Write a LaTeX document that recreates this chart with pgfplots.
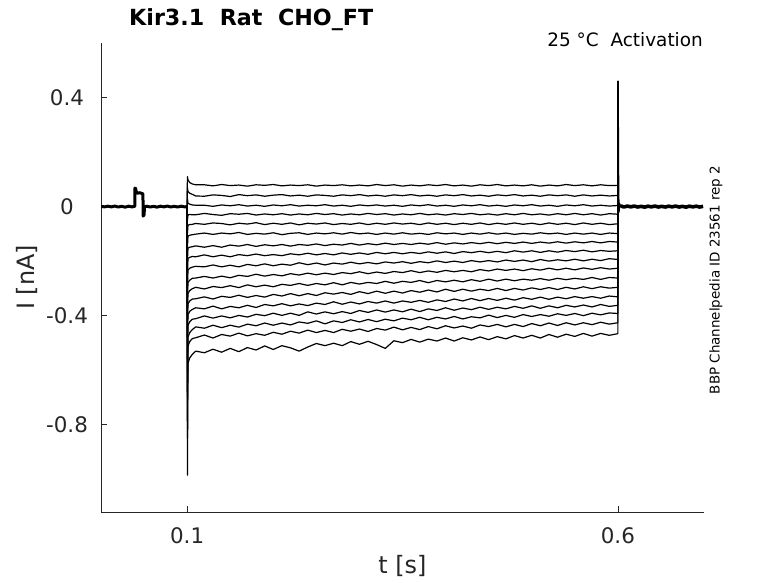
\documentclass[border=0pt]{standalone}
\usepackage{fontspec}
\setmainfont{DejaVu Sans}
\usepackage{pgfplots}
\usepackage{pgfplotstable}
\pgfplotsset{compat=1.18}
\definecolor{axgray}{HTML}{262626}

\pgfplotstableread{
t a0 a1 a2 a3 a4 a5 a6 a7 a8 a9 a10 a11 a12 a13 a14 a15 a16
0.1 0 0 0 0 0 0 0 0 0 0 0 0 0 0 0 0 0
0.1003 0.110 0.070 0.030 -0.050 -0.100 -0.150 -0.200 -0.250 -0.300 -0.350 -0.400 -0.450 -0.500 -0.600 -0.700 -0.850 -0.985
0.101 0.098 0.055 0.012 -0.030 -0.068 -0.108 -0.152 -0.190 -0.232 -0.278 -0.318 -0.357 -0.396 -0.436 -0.478 -0.512 -0.575
0.103 0.088 0.049 0.009 -0.029 -0.066 -0.105 -0.149 -0.186 -0.226 -0.270 -0.308 -0.346 -0.384 -0.422 -0.462 -0.495 -0.555
0.106 0.083 0.045 0.006 -0.030 -0.065 -0.103 -0.147 -0.183 -0.222 -0.263 -0.301 -0.339 -0.377 -0.413 -0.451 -0.484 -0.542
0.11 0.080 0.039 0.005 -0.030 -0.062 -0.101 -0.144 -0.184 -0.219 -0.262 -0.296 -0.338 -0.371 -0.411 -0.441 -0.481 -0.530
0.12 0.080 0.038 0.005 -0.025 -0.065 -0.097 -0.149 -0.177 -0.221 -0.256 -0.302 -0.331 -0.375 -0.401 -0.446 -0.471 -0.536
0.13 0.076 0.043 0.001 -0.029 -0.060 -0.102 -0.143 -0.184 -0.214 -0.262 -0.293 -0.339 -0.365 -0.409 -0.435 -0.482 -0.523
0.14 0.081 0.041 0.006 -0.032 -0.062 -0.097 -0.149 -0.178 -0.221 -0.255 -0.297 -0.329 -0.375 -0.401 -0.444 -0.469 -0.534
0.15 0.077 0.037 0.003 -0.026 -0.067 -0.100 -0.141 -0.184 -0.215 -0.261 -0.290 -0.333 -0.366 -0.408 -0.435 -0.475 -0.520
0.16 0.079 0.044 0.007 -0.028 -0.061 -0.095 -0.145 -0.176 -0.221 -0.252 -0.297 -0.325 -0.371 -0.399 -0.442 -0.464 -0.532
0.17 0.075 0.040 0.002 -0.025 -0.064 -0.102 -0.139 -0.180 -0.212 -0.256 -0.287 -0.333 -0.362 -0.405 -0.431 -0.474 -0.517
0.18 0.080 0.043 0.005 -0.031 -0.059 -0.098 -0.146 -0.174 -0.217 -0.248 -0.294 -0.326 -0.370 -0.395 -0.437 -0.466 -0.526
0.19 0.078 0.038 0.001 -0.027 -0.066 -0.101 -0.140 -0.180 -0.210 -0.255 -0.288 -0.332 -0.359 -0.400 -0.427 -0.472 -0.511
0.20 0.081 0.042 0.006 -0.030 -0.061 -0.096 -0.144 -0.176 -0.217 -0.249 -0.294 -0.322 -0.364 -0.391 -0.435 -0.461 -0.524
0.21 0.076 0.044 0.003 -0.026 -0.065 -0.103 -0.139 -0.180 -0.211 -0.254 -0.285 -0.328 -0.356 -0.399 -0.427 -0.468 -0.510
0.22 0.079 0.039 0.007 -0.031 -0.060 -0.098 -0.145 -0.173 -0.215 -0.246 -0.289 -0.319 -0.364 -0.391 -0.434 -0.457 -0.518
0.23 0.077 0.042 0.002 -0.027 -0.067 -0.096 -0.139 -0.177 -0.206 -0.251 -0.282 -0.327 -0.357 -0.399 -0.423 -0.464 -0.530
0.24 0.080 0.038 0.005 -0.030 -0.061 -0.102 -0.142 -0.171 -0.213 -0.244 -0.289 -0.319 -0.363 -0.386 -0.428 -0.453 -0.515
0.25 0.075 0.043 0.003 -0.025 -0.064 -0.097 -0.137 -0.177 -0.207 -0.250 -0.282 -0.326 -0.354 -0.394 -0.419 -0.462 -0.502
0.26 0.079 0.041 0.007 -0.029 -0.060 -0.100 -0.143 -0.172 -0.214 -0.244 -0.287 -0.316 -0.359 -0.386 -0.430 -0.454 -0.510
0.27 0.077 0.038 0.002 -0.026 -0.066 -0.096 -0.138 -0.177 -0.207 -0.249 -0.279 -0.321 -0.349 -0.393 -0.419 -0.462 -0.501
0.28 0.080 0.043 0.005 -0.031 -0.062 -0.101 -0.141 -0.170 -0.211 -0.242 -0.287 -0.315 -0.358 -0.385 -0.425 -0.450 -0.510
0.29 0.076 0.040 0.001 -0.027 -0.065 -0.095 -0.135 -0.175 -0.204 -0.246 -0.278 -0.322 -0.350 -0.392 -0.415 -0.457 -0.495
0.30 0.079 0.044 0.006 -0.030 -0.060 -0.100 -0.141 -0.170 -0.210 -0.239 -0.284 -0.312 -0.357 -0.381 -0.423 -0.449 -0.505
0.31 0.076 0.039 0.003 -0.025 -0.066 -0.097 -0.136 -0.175 -0.205 -0.246 -0.278 -0.319 -0.348 -0.388 -0.414 -0.458 -0.494
0.32 0.081 0.042 0.006 -0.029 -0.061 -0.102 -0.140 -0.168 -0.210 -0.240 -0.282 -0.310 -0.354 -0.379 -0.422 -0.447 -0.506
0.33 0.077 0.038 0.002 -0.026 -0.065 -0.097 -0.134 -0.173 -0.203 -0.245 -0.274 -0.318 -0.346 -0.387 -0.413 -0.453 -0.520
0.34 0.080 0.043 0.005 -0.031 -0.060 -0.101 -0.139 -0.168 -0.207 -0.238 -0.281 -0.310 -0.354 -0.379 -0.419 -0.442 -0.492
0.35 0.075 0.040 0.001 -0.027 -0.064 -0.096 -0.135 -0.173 -0.202 -0.242 -0.274 -0.317 -0.346 -0.386 -0.409 -0.452 -0.499
0.36 0.079 0.044 0.006 -0.030 -0.061 -0.101 -0.139 -0.168 -0.208 -0.235 -0.278 -0.308 -0.351 -0.376 -0.415 -0.443 -0.487
0.37 0.076 0.039 0.003 -0.025 -0.066 -0.098 -0.134 -0.172 -0.202 -0.242 -0.271 -0.314 -0.344 -0.385 -0.406 -0.451 -0.497
0.38 0.080 0.042 0.007 -0.030 -0.060 -0.102 -0.138 -0.166 -0.206 -0.236 -0.279 -0.306 -0.351 -0.375 -0.415 -0.440 -0.486
0.39 0.077 0.038 0.002 -0.027 -0.065 -0.096 -0.132 -0.171 -0.199 -0.241 -0.271 -0.313 -0.342 -0.381 -0.406 -0.448 -0.493
0.40 0.081 0.043 0.005 -0.031 -0.061 -0.100 -0.138 -0.166 -0.205 -0.234 -0.276 -0.303 -0.348 -0.371 -0.412 -0.437 -0.482
0.41 0.076 0.040 0.001 -0.026 -0.066 -0.097 -0.133 -0.172 -0.200 -0.239 -0.270 -0.311 -0.339 -0.380 -0.403 -0.445 -0.493
0.42 0.079 0.044 0.006 -0.029 -0.061 -0.102 -0.137 -0.165 -0.205 -0.234 -0.276 -0.303 -0.346 -0.372 -0.412 -0.438 -0.481
0.43 0.075 0.039 0.003 -0.025 -0.065 -0.097 -0.132 -0.169 -0.198 -0.239 -0.268 -0.310 -0.337 -0.378 -0.404 -0.446 -0.489
0.44 0.080 0.042 0.007 -0.030 -0.060 -0.101 -0.136 -0.164 -0.203 -0.231 -0.274 -0.303 -0.345 -0.369 -0.408 -0.434 -0.478
0.45 0.077 0.038 0.002 -0.027 -0.066 -0.096 -0.131 -0.169 -0.198 -0.236 -0.266 -0.308 -0.337 -0.377 -0.398 -0.440 -0.488
0.46 0.081 0.043 0.005 -0.031 -0.061 -0.101 -0.136 -0.164 -0.203 -0.229 -0.273 -0.300 -0.344 -0.369 -0.407 -0.432 -0.477
0.47 0.076 0.040 0.001 -0.026 -0.065 -0.097 -0.131 -0.169 -0.196 -0.234 -0.266 -0.308 -0.336 -0.375 -0.399 -0.441 -0.485
0.48 0.079 0.044 0.006 -0.030 -0.060 -0.102 -0.135 -0.162 -0.201 -0.229 -0.272 -0.300 -0.343 -0.366 -0.406 -0.432 -0.473
0.49 0.076 0.039 0.003 -0.025 -0.065 -0.098 -0.130 -0.167 -0.196 -0.235 -0.266 -0.306 -0.334 -0.373 -0.396 -0.440 -0.482
0.50 0.080 0.042 0.007 -0.030 -0.061 -0.101 -0.135 -0.162 -0.202 -0.228 -0.270 -0.298 -0.340 -0.364 -0.403 -0.429 -0.472
0.51 0.075 0.038 0.002 -0.027 -0.066 -0.096 -0.130 -0.168 -0.194 -0.233 -0.264 -0.304 -0.332 -0.373 -0.396 -0.437 -0.482
0.52 0.079 0.043 0.005 -0.031 -0.060 -0.100 -0.134 -0.162 -0.200 -0.226 -0.270 -0.297 -0.340 -0.364 -0.402 -0.427 -0.469
0.53 0.076 0.040 0.001 -0.026 -0.065 -0.097 -0.129 -0.167 -0.195 -0.232 -0.263 -0.304 -0.332 -0.371 -0.393 -0.436 -0.479
0.54 0.081 0.043 0.006 -0.030 -0.061 -0.102 -0.134 -0.161 -0.199 -0.226 -0.268 -0.296 -0.338 -0.362 -0.399 -0.426 -0.468
0.55 0.077 0.038 0.003 -0.025 -0.066 -0.097 -0.129 -0.165 -0.193 -0.232 -0.263 -0.302 -0.330 -0.368 -0.392 -0.434 -0.476
0.56 0.080 0.043 0.007 -0.030 -0.060 -0.101 -0.133 -0.160 -0.199 -0.225 -0.267 -0.294 -0.336 -0.361 -0.400 -0.426 -0.465
0.57 0.076 0.039 0.002 -0.026 -0.065 -0.097 -0.128 -0.166 -0.193 -0.230 -0.260 -0.301 -0.330 -0.368 -0.391 -0.433 -0.475
0.58 0.080 0.042 0.005 -0.031 -0.061 -0.102 -0.133 -0.161 -0.198 -0.224 -0.267 -0.294 -0.336 -0.359 -0.397 -0.424 -0.465
0.59 0.077 0.039 0.002 -0.026 -0.066 -0.097 -0.128 -0.164 -0.191 -0.229 -0.260 -0.299 -0.328 -0.366 -0.390 -0.431 -0.472
0.60 0.078 0.041 0.004 -0.028 -0.063 -0.099 -0.130 -0.162 -0.194 -0.226 -0.262 -0.296 -0.331 -0.362 -0.392 -0.426 -0.466
0.60 0 0 0 0 0 0 0 0 0 0 0 0 0 0 0 0 0
}\traces

\pgfplotstableread{
t y
0 0.001
0.004 -0.001
0.008 0.0015
0.012 -0.001
0.016 0.002
0.020 -0.0015
0.024 0.001
0.028 -0.002
0.032 0.0015
0.036 -0.001
0.0392 0.001
0.0394 0.068
0.0402 0.066
0.0412 0.052
0.0425 0.049
0.0450 0.051
0.0475 0.048
0.0487 0.047
0.0489 -0.035
0.0500 -0.030
0.0505 -0.001
0.053 0.0015
0.057 -0.0015
0.061 0.001
0.065 -0.002
0.069 0.0015
0.073 -0.001
0.077 0.002
0.081 -0.0015
0.085 0.001
0.089 -0.0015
0.093 0.0015
0.097 -0.001
0.1 0
}\baseline

\pgfplotstableread{
t y
0.6 0
0.6002 0.46
0.6005 0.20
0.6008 0.06
0.6012 -0.02
0.6018 0.012
0.6025 0
}\spike

\pgfplotstableread{
t y
0.6025 0
0.604 0.002
0.607 -0.0015
0.611 0.002
0.615 -0.001
0.619 0.002
0.623 -0.0015
0.627 0.001
0.631 -0.002
0.635 0.0015
0.639 -0.001
0.643 0.002
0.647 -0.0015
0.651 0.001
0.655 -0.0015
0.659 0.0015
0.663 -0.001
0.667 0.002
0.671 -0.0015
0.675 0.001
0.679 -0.002
0.683 0.0015
0.687 -0.001
0.691 0.0015
0.695 -0.0015
0.699 0.001
}\tail

\begin{document}
\begin{tikzpicture}
\useasboundingbox (0,0) rectangle (778bp,583bp);
\begin{axis}[
  at={(101bp,71bp)}, anchor=south west,
  scale only axis, width=603bp, height=469bp,
  xmin=0, xmax=0.7, ymin=-1.12, ymax=0.6,
  axis x line*=bottom, axis y line*=left,
  axis line style={axgray, line width=0.6bp},
  xtick={0.1,0.6}, xticklabels={0.1,0.6},
  ytick={-0.8,-0.4,0,0.4}, yticklabels={-0.8,-0.4,0,0.4},
  tick style={axgray, line width=0.6bp},
  major tick length=6bp,
  tick align=inside,
  ticklabel style={font=\fontsize{21.5}{24}\selectfont, text=axgray},
  xticklabel style={anchor=north, inner sep=0pt, yshift=-15bp},
  yticklabel style={anchor=center, inner sep=0pt, xshift=-34bp},
  xlabel={t [s]}, ylabel={I [nA]},
  label style={font=\fontsize{24}{28}\selectfont, text=axgray},
  xlabel style={at={(axis description cs:0.5,-0.1151)}, anchor=center},
  ylabel style={at={(axis description cs:-0.1227,0.5)}, anchor=center},
  trace/.style={black, line width=1.2bp, line join=round, mark=none},
]
\addplot[black, line width=3bp, line join=round] table[x=t,y=y]{\baseline};
\pgfplotsinvokeforeach{0,...,16}{
  \addplot[trace] table[x=t,y=a#1]{\traces};
}
\addplot[black, line width=1.6bp, line join=round] table[x=t,y=y]{\spike};
\addplot[black, line width=3.6bp, line join=round] table[x=t,y=y]{\tail};
\end{axis}
\node[anchor=base west, inner sep=0pt, font=\fontsize{22.3}{26}\selectfont\bfseries] at (129bp,557bp) {Kir3.1\ \ Rat\ \ CHO\_FT};
\node[anchor=base east, inner sep=0pt, font=\fontsize{18.5}{22}\selectfont] at (703bp,536bp) {25 °C\ \ Activation};
\node[rotate=90, anchor=center, inner sep=0pt, font=\fontsize{13.5}{16}\selectfont] at (716bp,303bp) {BBP Channelpedia ID 23561 rep 2};
\end{tikzpicture}
\end{document}
